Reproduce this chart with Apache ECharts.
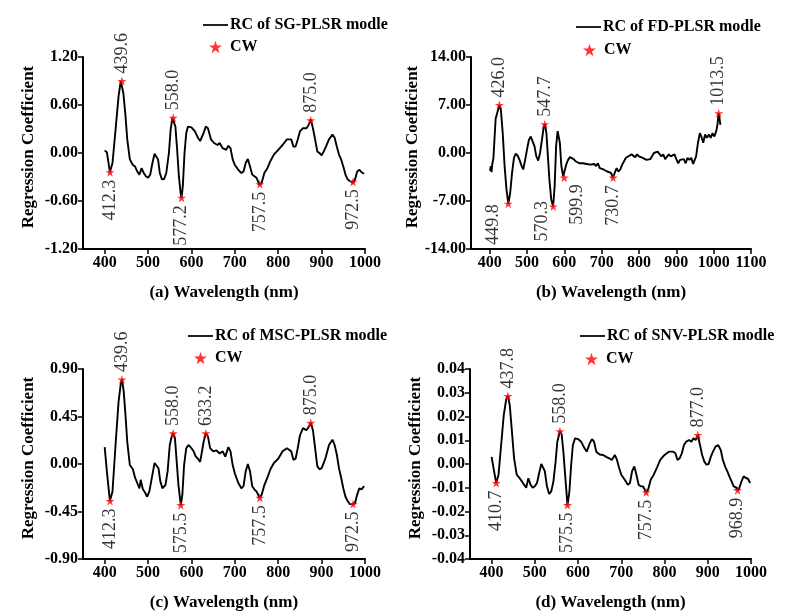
<!DOCTYPE html>
<html>
<head>
<meta charset="utf-8">
<script src="https://cdn.jsdelivr.net/npm/echarts@6/dist/echarts.min.js"></script>
<style>
html,body{margin:0;padding:0;background:#fff;}
#main{width:786px;height:612px;}
</style>
</head>
<body>
<div id="main"></div>
<script>
// ---------- DATA ----------
var xTicksA = [400,500,600,700,800,900,1000];
var xTicksB = [400,500,600,700,800,900,1000,1100];

// (a) SG-PLSR
var sgWave = [400,405,412,418,425,432,437,440,443,448,
  452,458,465,470,475,480,485,490,495,500,
  505,510,515,519,523,527,532,537,542,548,
  552,556,559,563,567,571,575,577,580,584,
  588,592,600,608,615,620,628,633,638,645,
  652,660,665,672,680,685,690,695,700,708,
  715,720,725,730,735,740,745,750,757,762,
  768,775,782,790,800,810,820,830,835,840,
  845,850,857,865,870,875,880,885,890,895,
  900,905,910,917,925,930,935,940,945,950,
  955,960,965,972,977,982,987,992,998];
var sgRC = [0.03,0.01,-0.24,-0.125,0.29,0.71,0.90,0.90,0.75,0.46,
  0.17,-0.08,-0.15,-0.17,-0.23,-0.27,-0.19,-0.25,-0.29,-0.31,
  -0.27,-0.125,-0.01,0,-0.08,-0.25,-0.33,-0.325,-0.25,0,
  0.29,0.44,0.45,0.33,0.04,-0.29,-0.50,-0.56,-0.42,0,
  0.25,0.33,0.32,0.27,0.19,0.15,0.25,0.33,0.31,0.17,
  0.125,0.10,0.125,0.06,0.04,0.09,0.06,-0.08,-0.15,-0.21,
  -0.25,-0.23,-0.125,-0.075,-0.17,-0.27,-0.29,-0.31,-0.40,-0.37,
  -0.25,-0.19,-0.10,-0.02,0.04,0.10,0.17,0.17,0.08,0.08,
  0.17,0.27,0.31,0.31,0.35,0.42,0.31,0.17,0.02,0,
  -0.03,0.02,0.08,0.17,0.23,0.19,0.08,-0.02,-0.08,-0.17,
  -0.27,-0.33,-0.35,-0.37,-0.33,-0.23,-0.21,-0.24,-0.26];
var sgCWWave = [412.3,439.6,558.0,577.2,757.5,875.0,972.5];
var sgCWValue = [-0.24,0.90,0.44,-0.56,-0.39,0.41,-0.36];
var sgYTicks = [-1.2,1.2,0.6];

// (b) FD-PLSR
var fdWave = [401,403,405,407,410,416,420,426,430,435,
  440,445,450,455,460,465,470,475,480,485,
  490,495,500,505,510,515,520,525,530,535,
  540,545,548,552,556,560,565,570,574,578,
  582,585,588,592,597,600,605,610,615,620,
  625,630,640,650,660,670,680,685,690,695,
  700,705,710,715,720,725,730,735,740,745,
  750,755,760,765,770,780,790,795,800,810,
  820,825,830,840,850,855,860,865,870,880,
  885,890,895,900,905,910,915,920,925,930,
  935,940,945,950,953,958,963,967,972,977,
  982,987,992,997,1002,1007,1010,1013.5,1016,1018];
var fdRC = [-2.6,-1.9,-2.8,-1.6,-0.8,5.0,5.8,7.0,6.3,2.9,
  -1.9,-5.3,-7.4,-5.8,-2.9,-0.7,-0.1,-0.4,-1.0,-1.8,
  -2.4,-1.0,0.5,1.9,2.4,2.2,1.0,-0.5,-1.1,0,
  1.9,3.9,4.2,2.9,-0.5,-3.9,-6.8,-7.8,-4.9,1.0,
  3.2,3.4,1.5,-1.9,-3.4,-3.6,-1.7,-1.0,-0.6,-0.5,
  -0.9,-1.2,-1.5,-1.5,-1.6,-1.7,-1.6,-1.9,-1.5,-2.2,
  -2.2,-2.4,-2.2,-2.7,-2.7,-2.9,-3.6,-2.9,-2.2,-2.7,
  -2.4,-1.7,-1.2,-0.7,-0.5,-0.2,-0.6,-0.2,-0.5,-0.7,
  -1.0,-1.2,-0.9,0,0.2,0,-0.5,-0.2,-0.9,-0.2,
  -0.5,-0.5,-0.2,-0.9,-1.5,-1.0,-1.2,-0.9,-1.5,-0.7,
  -1.0,-0.7,-1.6,-1.5,-0.5,1.5,2.9,2.4,1.5,2.7,
  2.2,2.7,2.2,2.9,2.4,3.2,4.1,5.8,4.9,4.1];
var fdCWWave = [426.0,449.8,547.7,570.3,599.9,730.7,1013.5];
var fdCWValue = [7.0,-7.4,4.2,-7.8,-3.6,-3.6,5.8];
var fdYTicks = [-14,14,7];

// (c) MSC-PLSR
var mscWave = [400,405,412,418,425,432,437,440,444,448,
  452,458,465,470,475,480,483,488,493,498,
  503,510,515,519,524,528,533,540,545,550,
  555,558,562,566,570,575.5,579,583,588,593,
  600,605,610,615,620,623,628,633,638,643,
  650,657,665,672,678,685,690,695,700,708,
  715,720,725,730,735,740,745,750,757,762,
  768,775,782,790,800,810,820,830,835,840,
  845,850,857,865,870,875,880,885,890,895,
  900,905,910,917,925,930,935,940,945,950,
  955,960,965,972,977,982,987,992,998];
var mscRC = [0.16,-0.07,-0.35,-0.26,0.18,0.59,0.76,0.80,0.68,0.46,
  0.21,-0.01,-0.05,-0.13,-0.18,-0.23,-0.15,-0.24,-0.27,-0.31,
  -0.26,-0.10,0.01,0.02,-0.04,-0.16,-0.23,-0.20,-0.07,0.18,
  0.27,0.29,0.24,0.02,-0.20,-0.39,-0.29,-0.01,0.15,0.18,
  0.15,0.12,0.07,0.05,0.02,0.09,0.21,0.29,0.26,0.15,
  0.12,0.13,0.10,0.12,0.07,0.16,0.12,-0.01,-0.09,-0.18,
  -0.23,-0.21,-0.07,0,-0.07,-0.21,-0.24,-0.26,-0.32,-0.29,
  -0.20,-0.13,-0.05,0.01,0.05,0.12,0.15,0.12,0.04,0.05,
  0.15,0.27,0.34,0.32,0.35,0.39,0.32,0.15,-0.02,-0.05,
  -0.04,0.01,0.07,0.18,0.23,0.18,0.09,-0.04,-0.13,-0.23,
  -0.31,-0.35,-0.38,-0.38,-0.37,-0.29,-0.23,-0.24,-0.21];
var mscCWWave = [412.3,439.6,558.0,575.5,633.2,757.5,875.0,972.5];
var mscCWValue = [-0.35,0.80,0.29,-0.39,0.29,-0.32,0.39,-0.38];
var mscYTicks = [-0.9,0.9,0.45];

// (d) SNV-PLSR
var snvWave = [400,405,410.7,416,422,428,434,437.8,442,447,
  452,458,465,470,475,480,485,490,495,500,
  505,510,515,519,523,528,533,538,543,548,
  552,558,562,566,570,575.5,580,584,588,593,
  600,607,615,620,627,632,637,642,650,658,
  665,672,678,685,690,695,700,708,715,720,
  725,730,735,740,745,750,757.5,762,768,775,
  782,790,800,810,820,825,830,835,840,845,
  850,857,862,867,872,877,882,887,892,897,
  902,907,912,918,924,930,935,940,945,950,
  955,960,965,968.9,973,978,983,988,993,998];
var snvRC = [0.003,-0.0024,-0.008,-0.0045,0.008,0.0205,0.0275,0.0286,0.0247,0.0136,
  0.0024,-0.0045,-0.006,-0.0073,-0.0087,-0.010,-0.006,-0.0087,-0.010,-0.0094,
  -0.008,-0.0038,0,0.0003,-0.003,-0.0094,-0.0126,-0.0115,-0.0073,0.001,
  0.0094,0.0138,0.0125,0.0052,-0.0045,-0.0173,-0.0115,-0.0003,0.008,0.0108,
  0.0105,0.0094,0.0066,0.0052,0.0087,0.0105,0.0094,0.0052,0.004,0.0038,
  0.003,0.0024,0.0017,0.0038,0.0017,-0.0017,-0.0045,-0.0066,-0.0087,-0.008,
  -0.003,-0.001,-0.0045,-0.0087,-0.0094,-0.0094,-0.0119,-0.0108,-0.0066,-0.0045,
  -0.0017,0.0017,0.0038,0.0052,0.0052,0.0045,0.0017,0.0024,0.0045,0.008,
  0.0094,0.0101,0.0094,0.0108,0.0101,0.0122,0.008,0.0038,0.001,-0.0003,
  0,0.003,0.0052,0.0073,0.008,0.0059,0.0017,-0.001,-0.003,-0.0052,
  -0.0073,-0.0094,-0.0098,-0.011,-0.0101,-0.0073,-0.0052,-0.0059,-0.0062,-0.008];
var snvCWWave = [410.7,437.8,558.0,575.5,757.5,877.0,968.9];
var snvCWValue = [-0.008,0.0286,0.0138,-0.0173,-0.0119,0.0122,-0.011];
var snvYTicks = [-0.04,0.04,0.01];

var seriesNames = ['RC of SG-PLSR modle','RC of FD-PLSR modle','RC of MSC-PLSR modle','RC of SNV-PLSR modle'];
var xTitles = ['(a) Wavelength (nm)','(b) Wavelength (nm)','(c) Wavelength (nm)','(d) Wavelength (nm)'];
var yTitle = 'Regression Coefficient';
var cwName = 'CW';

// ---------- LAYOUT / STYLE ----------
var FONT = '"Liberation Serif","Times New Roman",serif';
var STAR = 'path://M50,0 L61.2,34.5 L97.6,34.5 L68.2,55.9 L79.4,90.5 L50,69.1 L20.6,90.5 L31.8,55.9 L2.4,34.5 L38.8,34.5 Z';
var LINE_ICON = 'path://M0,0 L50,0 L50,3.5 L0,3.5 Z';
var grids = [
  {left:83, top:57, width:282, height:192},
  {left:471, top:57, width:280, height:192},
  {left:83, top:369, width:282, height:192},
  {left:470, top:369, width:281, height:192}
];
var legendPos = [
  {line:[203,17], star:[209,39]},
  {line:[576,19], star:[583,42]},
  {line:[188,328], star:[194,350]},
  {line:[580,328], star:[585,351]}
];
// per-label pixel nudges in the label's rotated frame [along text, across text]
var labelNudge = {
  1: {'449.8':[7,-15], '570.3':[13,-11], '599.9':[1,13]}
};

var panels = [
  {wave:sgWave, rc:sgRC, cwW:sgCWWave, cwV:sgCWValue, yt:sgYTicks, xt:xTicksA, xmax:1000},
  {wave:fdWave, rc:fdRC, cwW:fdCWWave, cwV:fdCWValue, yt:fdYTicks, xt:xTicksB, xmax:1100},
  {wave:mscWave, rc:mscRC, cwW:mscCWWave, cwV:mscCWValue, yt:mscYTicks, xt:xTicksA, xmax:1000},
  {wave:snvWave, rc:snvRC, cwW:snvCWWave, cwV:snvCWValue, yt:snvYTicks, xt:xTicksA, xmax:1000}
];

function fmt2(v){ if (Math.abs(v) < 1e-9) v = 0; return v.toFixed(2); }
function fmtX(v){ return String(Math.round(v)); }

var xAxes = [], yAxes = [], series = [], legends = [];
panels.forEach(function(p, i){
  xAxes.push({
    type:'value', gridIndex:i, min:350, max:p.xmax,
    name: xTitles[i], nameLocation:'middle', nameGap:35,
    nameTextStyle:{fontFamily:FONT, fontWeight:'bold', fontSize:17, color:'#000'},
    axisLine:{show:true, onZero:false, lineStyle:{color:'#000', width:2}},
    axisTick:{show:true, inside:false, length:5, customValues:p.xt, lineStyle:{color:'#000', width:1.5}},
    axisLabel:{customValues:p.xt, formatter:fmtX, fontFamily:FONT, fontWeight:'bold', fontSize:16, color:'#000', margin:6},
    splitLine:{show:false}
  });
  yAxes.push({
    type:'value', gridIndex:i, min:p.yt[0], max:p.yt[1], interval:p.yt[2],
    name: yTitle, nameLocation:'middle', nameGap:46, nameRotate:90,
    nameTextStyle:{fontFamily:FONT, fontWeight:'bold', fontSize:17, color:'#000', padding:[0,0,0,12]},
    axisLine:{show:true, onZero:false, lineStyle:{color:'#000', width:2}},
    axisTick:{show:true, inside:false, length:5, lineStyle:{color:'#000', width:1.5}},
    axisLabel:{formatter:fmt2, fontFamily:FONT, fontWeight:'bold', fontSize:16, color:'#000', margin:5},
    splitLine:{show:false}
  });
  series.push({
    name: seriesNames[i], type:'line', xAxisIndex:i, yAxisIndex:i,
    data: p.wave.map(function(w, k){ return [w, p.rc[k]]; }),
    showSymbol:false, symbol:'none', lineStyle:{color:'#000', width:1.9}, itemStyle:{color:'#000'},
    z:2, silent:true, animation:false
  });
  var nud = labelNudge[i] || {};
  var lineVals = p.wave.map(function(w,k){return p.rc[k];});
  series.push({
    name: cwName, type:'scatter', xAxisIndex:i, yAxisIndex:i,
    symbol: STAR, symbolSize:9, itemStyle:{color:'#ff0000'}, z:3, animation:false,
    data: p.cwW.map(function(w, k){
      var v = p.cwV[k];
      var idx = 0, best = 1e9;
      p.wave.forEach(function(ww, j){ if (Math.abs(ww - w) < best){ best = Math.abs(ww - w); idx = j; } });
      var prev = lineVals[Math.max(0, idx-3)], next = lineVals[Math.min(lineVals.length-1, idx+3)];
      var isPeak = v >= prev && v >= next;
      var key = w.toFixed(1);
      var off = nud[key] || [0,0];
      return {
        value:[w, v],
        label:{
          show:true, formatter: key, rotate:90,
          position: isPeak ? 'top' : 'bottom',
          align: isPeak ? 'left' : 'right', verticalAlign:'middle',
          distance: 3, offset: off,
          fontFamily:FONT, fontSize:18, color:'#000'
        }
      };
    })
  });
  legends.push({
    data:[{name:seriesNames[i], icon:LINE_ICON}], left:legendPos[i].line[0], top:legendPos[i].line[1], padding:0,
    itemWidth:25, itemHeight:14, selectedMode:false, symbolKeepAspect:true,
    textStyle:{fontFamily:FONT, fontWeight:'bold', fontSize:16, color:'#000', padding:[0,0,0,-3]}
  });
  legends.push({
    data:[{name:cwName, icon:STAR}], left:legendPos[i].star[0], top:legendPos[i].star[1], padding:0,
    itemWidth:13, itemHeight:13, selectedMode:false,
    textStyle:{fontFamily:FONT, fontWeight:'bold', fontSize:16, color:'#000', padding:[0,0,0,3]}
  });
});

var chart = echarts.init(document.getElementById('main'), null, {renderer:'canvas'});
chart.setOption({
  backgroundColor:'#fff',
  animation:false,
  grid: grids,
  xAxis: xAxes,
  yAxis: yAxes,
  legend: legends,
  series: series
});
</script>
</body>
</html>
